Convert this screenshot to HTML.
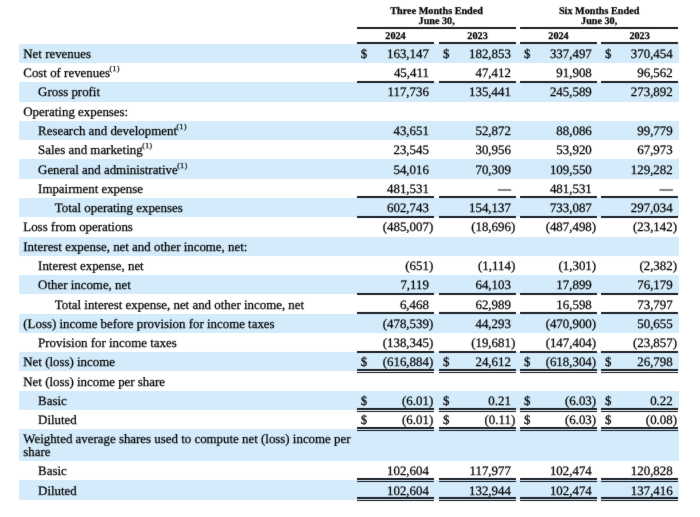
<!DOCTYPE html>
<html><head><meta charset="utf-8"><style>
*{margin:0;padding:0;box-sizing:border-box}
html,body{width:700px;height:517px;background:#fff;overflow:hidden}
body{position:relative;font-family:"Liberation Serif", serif;font-size:12.9px;color:#000;text-rendering:geometricPrecision;-webkit-text-stroke:0.25px #000}
.bg{position:absolute;left:19.3px;width:659.3px;background:#d3ebfa}
.r{position:absolute;left:0;width:700px;height:19px;line-height:19px;white-space:nowrap;will-change:transform}
.r div{position:absolute;top:0}
.n{text-align:right}
sup{font-size:7.5px;line-height:0;position:relative;top:-6.3px;vertical-align:baseline;letter-spacing:0.6px;margin-left:-0.5px}
.ln{position:absolute;height:2px;background:#1a1f26}
.l2{position:absolute;height:1px;background:#0e1218}
.h{position:absolute;will-change:transform;font-weight:bold;font-size:10.2px;text-align:center;line-height:9.9px;white-space:nowrap}
#w{position:absolute;left:0;top:0;width:700px;height:517px;filter:url(#f)}
</style></head><body><svg width="0" height="0" style="position:absolute"><filter id="f" x="0" y="0" width="100%" height="100%" color-interpolation-filters="sRGB"><feConvolveMatrix order="3" kernelMatrix="1 2 1 2 36 2 1 2 1" divisor="48" edgeMode="duplicate"/></filter></svg><div id="w">

<div class="h" style="left:357px;width:159.3px;top:6.6px">Three Months Ended<br>June 30,</div>
<div class="h" style="left:520.2px;width:158.3px;top:6.6px">Six Months Ended<br>June 30,</div>
<div class="ln" style="left:357px;width:159.3px;top:26.9px"></div>
<div class="ln" style="left:520.2px;width:158.3px;top:26.9px"></div>
<div class="h" style="left:357.0px;width:77.0px;top:31.8px">2024</div>
<div class="h" style="left:439.2px;width:77.1px;top:31.8px">2023</div>
<div class="h" style="left:520.2px;width:77.0px;top:31.8px">2024</div>
<div class="h" style="left:601.3px;width:77.2px;top:31.8px">2023</div>
<div class="bg" style="top:43.70px;height:19.28px"></div>
<div class="r" style="top:45px"><div style="left:23.3px">Net revenues</div><div style="left:360.8px">$</div><div class="n" style="right:271.10px">163,147</div><div style="left:443.0px">$</div><div class="n" style="right:189.10px">182,853</div><div style="left:524.0px">$</div><div class="n" style="right:108.20px">337,497</div><div style="left:605.1px">$</div><div class="n" style="right:27.30px">370,454</div></div>
<div class="r" style="top:64px"><div style="left:23.3px">Cost of revenues<sup>(1)</sup></div><div class="n" style="right:271.10px">45,411</div><div class="n" style="right:189.10px">47,412</div><div class="n" style="right:108.20px">91,908</div><div class="n" style="right:27.30px">96,562</div></div>
<div class="bg" style="top:82.26px;height:19.28px"></div>
<div class="r" style="top:83px"><div style="left:38.1px">Gross profit</div><div class="n" style="right:271.10px">117,736</div><div class="n" style="right:189.10px">135,441</div><div class="n" style="right:108.20px">245,589</div><div class="n" style="right:27.30px">273,892</div></div>
<div class="r" style="top:103px"><div style="left:23.3px">Operating expenses:</div></div>
<div class="bg" style="top:120.82px;height:19.28px"></div>
<div class="r" style="top:122px"><div style="left:38.1px">Research and development<sup>(1)</sup></div><div class="n" style="right:271.10px">43,651</div><div class="n" style="right:189.10px">52,872</div><div class="n" style="right:108.20px">88,086</div><div class="n" style="right:27.30px">99,779</div></div>
<div class="r" style="top:141px"><div style="left:38.1px">Sales and marketing<sup>(1)</sup></div><div class="n" style="right:271.10px">23,545</div><div class="n" style="right:189.10px">30,956</div><div class="n" style="right:108.20px">53,920</div><div class="n" style="right:27.30px">67,973</div></div>
<div class="bg" style="top:159.38px;height:19.28px"></div>
<div class="r" style="top:161px"><div style="left:38.1px">General and administrative<sup>(1)</sup></div><div class="n" style="right:271.10px">54,016</div><div class="n" style="right:189.10px">70,309</div><div class="n" style="right:108.20px">109,550</div><div class="n" style="right:27.30px">129,282</div></div>
<div class="r" style="top:180px"><div style="left:38.1px">Impairment expense</div><div class="n" style="right:271.10px">481,531</div><div class="n" style="right:189.10px">—</div><div class="n" style="right:108.20px">481,531</div><div class="n" style="right:27.30px">—</div></div>
<div class="bg" style="top:197.94px;height:19.28px"></div>
<div class="r" style="top:199px"><div style="left:54.8px">Total operating expenses</div><div class="n" style="right:271.10px">602,743</div><div class="n" style="right:189.10px">154,137</div><div class="n" style="right:108.20px">733,087</div><div class="n" style="right:27.30px">297,034</div></div>
<div class="r" style="top:218px"><div style="left:23.3px">Loss from operations</div><div class="n" style="right:271.10px">(485,007</div><div style="left:428.90px">)</div><div class="n" style="right:189.10px">(18,696</div><div style="left:510.90px">)</div><div class="n" style="right:108.20px">(487,498</div><div style="left:591.80px">)</div><div class="n" style="right:27.30px">(23,142</div><div style="left:672.70px">)</div></div>
<div class="bg" style="top:236.50px;height:19.28px"></div>
<div class="r" style="top:238px"><div style="left:23.3px">Interest expense, net and other income, net:</div></div>
<div class="r" style="top:257px"><div style="left:38.1px">Interest expense, net</div><div class="n" style="right:271.10px">(651</div><div style="left:428.90px">)</div><div class="n" style="right:189.10px">(1,114</div><div style="left:510.90px">)</div><div class="n" style="right:108.20px">(1,301</div><div style="left:591.80px">)</div><div class="n" style="right:27.30px">(2,382</div><div style="left:672.70px">)</div></div>
<div class="bg" style="top:275.06px;height:19.28px"></div>
<div class="r" style="top:276px"><div style="left:38.1px">Other income, net</div><div class="n" style="right:271.10px">7,119</div><div class="n" style="right:189.10px">64,103</div><div class="n" style="right:108.20px">17,899</div><div class="n" style="right:27.30px">76,179</div></div>
<div class="r" style="top:296px"><div style="left:54.8px">Total interest expense, net and other income, net</div><div class="n" style="right:271.10px">6,468</div><div class="n" style="right:189.10px">62,989</div><div class="n" style="right:108.20px">16,598</div><div class="n" style="right:27.30px">73,797</div></div>
<div class="bg" style="top:313.62px;height:19.28px"></div>
<div class="r" style="top:315px"><div style="left:23.3px">(Loss) income before provision for income taxes</div><div class="n" style="right:271.10px">(478,539</div><div style="left:428.90px">)</div><div class="n" style="right:189.10px">44,293</div><div class="n" style="right:108.20px">(470,900</div><div style="left:591.80px">)</div><div class="n" style="right:27.30px">50,655</div></div>
<div class="r" style="top:334px"><div style="left:38.1px">Provision for income taxes</div><div class="n" style="right:271.10px">(138,345</div><div style="left:428.90px">)</div><div class="n" style="right:189.10px">(19,681</div><div style="left:510.90px">)</div><div class="n" style="right:108.20px">(147,404</div><div style="left:591.80px">)</div><div class="n" style="right:27.30px">(23,857</div><div style="left:672.70px">)</div></div>
<div class="bg" style="top:352.18px;height:19.28px"></div>
<div class="r" style="top:353px"><div style="left:23.3px">Net (loss) income</div><div style="left:360.8px">$</div><div class="n" style="right:271.10px">(616,884</div><div style="left:428.90px">)</div><div style="left:443.0px">$</div><div class="n" style="right:189.10px">24,612</div><div style="left:524.0px">$</div><div class="n" style="right:108.20px">(618,304</div><div style="left:591.80px">)</div><div style="left:605.1px">$</div><div class="n" style="right:27.30px">26,798</div></div>
<div class="r" style="top:373px"><div style="left:23.3px">Net (loss) income per share</div></div>
<div class="bg" style="top:390.74px;height:19.28px"></div>
<div class="r" style="top:392px"><div style="left:38.1px">Basic</div><div style="left:360.8px">$</div><div class="n" style="right:271.10px">(6.01</div><div style="left:428.90px">)</div><div style="left:443.0px">$</div><div class="n" style="right:189.10px">0.21</div><div style="left:524.0px">$</div><div class="n" style="right:108.20px">(6.03</div><div style="left:591.80px">)</div><div style="left:605.1px">$</div><div class="n" style="right:27.30px">0.22</div></div>
<div class="r" style="top:411px"><div style="left:38.1px">Diluted</div><div style="left:360.8px">$</div><div class="n" style="right:271.10px">(6.01</div><div style="left:428.90px">)</div><div style="left:443.0px">$</div><div class="n" style="right:189.10px">(0.11</div><div style="left:510.90px">)</div><div style="left:524.0px">$</div><div class="n" style="right:108.20px">(6.03</div><div style="left:591.80px">)</div><div style="left:605.1px">$</div><div class="n" style="right:27.30px">(0.08</div><div style="left:672.70px">)</div></div>
<div class="bg" style="top:429.30px;height:31.80px"></div>
<div class="r" style="top:430px"><div style="left:23.3px">Weighted average shares used to compute net (loss) income per</div></div>
<div class="r" style="top:443px"><div style="left:23.3px">share</div></div>
<div class="r" style="top:462px"><div style="left:38.1px">Basic</div><div class="n" style="right:271.10px">102,604</div><div class="n" style="right:189.10px">117,977</div><div class="n" style="right:108.20px">102,474</div><div class="n" style="right:27.30px">120,828</div></div>
<div class="bg" style="top:480.38px;height:19.28px"></div>
<div class="r" style="top:482px"><div style="left:38.1px">Diluted</div><div class="n" style="right:271.10px">102,604</div><div class="n" style="right:189.10px">132,944</div><div class="n" style="right:108.20px">102,474</div><div class="n" style="right:27.30px">137,416</div></div>
<div class="ln" style="left:357.0px;width:77.0px;top:80.76px"></div>
<div class="ln" style="left:439.2px;width:77.1px;top:80.76px"></div>
<div class="ln" style="left:520.2px;width:77.0px;top:80.76px"></div>
<div class="ln" style="left:601.3px;width:77.2px;top:80.76px"></div>
<div class="ln" style="left:357.0px;width:77.0px;top:196.44px"></div>
<div class="ln" style="left:439.2px;width:77.1px;top:196.44px"></div>
<div class="ln" style="left:520.2px;width:77.0px;top:196.44px"></div>
<div class="ln" style="left:601.3px;width:77.2px;top:196.44px"></div>
<div class="ln" style="left:357.0px;width:77.0px;top:215.72px"></div>
<div class="ln" style="left:439.2px;width:77.1px;top:215.72px"></div>
<div class="ln" style="left:520.2px;width:77.0px;top:215.72px"></div>
<div class="ln" style="left:601.3px;width:77.2px;top:215.72px"></div>
<div class="ln" style="left:357.0px;width:77.0px;top:292.84px"></div>
<div class="ln" style="left:439.2px;width:77.1px;top:292.84px"></div>
<div class="ln" style="left:520.2px;width:77.0px;top:292.84px"></div>
<div class="ln" style="left:601.3px;width:77.2px;top:292.84px"></div>
<div class="ln" style="left:357.0px;width:77.0px;top:312.12px"></div>
<div class="ln" style="left:439.2px;width:77.1px;top:312.12px"></div>
<div class="ln" style="left:520.2px;width:77.0px;top:312.12px"></div>
<div class="ln" style="left:601.3px;width:77.2px;top:312.12px"></div>
<div class="ln" style="left:357.0px;width:77.0px;top:350.68px"></div>
<div class="ln" style="left:439.2px;width:77.1px;top:350.68px"></div>
<div class="ln" style="left:520.2px;width:77.0px;top:350.68px"></div>
<div class="ln" style="left:601.3px;width:77.2px;top:350.68px"></div>
<div class="ln" style="left:357.0px;width:77.0px;top:369.06px"></div>
<div class="l2" style="left:357.0px;width:77.0px;top:371.96px"></div>
<div class="ln" style="left:439.2px;width:77.1px;top:369.06px"></div>
<div class="l2" style="left:439.2px;width:77.1px;top:371.96px"></div>
<div class="ln" style="left:520.2px;width:77.0px;top:369.06px"></div>
<div class="l2" style="left:520.2px;width:77.0px;top:371.96px"></div>
<div class="ln" style="left:601.3px;width:77.2px;top:369.06px"></div>
<div class="l2" style="left:601.3px;width:77.2px;top:371.96px"></div>
<div class="ln" style="left:357.0px;width:77.0px;top:407.62px"></div>
<div class="l2" style="left:357.0px;width:77.0px;top:410.52px"></div>
<div class="ln" style="left:439.2px;width:77.1px;top:407.62px"></div>
<div class="l2" style="left:439.2px;width:77.1px;top:410.52px"></div>
<div class="ln" style="left:520.2px;width:77.0px;top:407.62px"></div>
<div class="l2" style="left:520.2px;width:77.0px;top:410.52px"></div>
<div class="ln" style="left:601.3px;width:77.2px;top:407.62px"></div>
<div class="l2" style="left:601.3px;width:77.2px;top:410.52px"></div>
<div class="ln" style="left:357.0px;width:77.0px;top:426.90px"></div>
<div class="l2" style="left:357.0px;width:77.0px;top:429.80px"></div>
<div class="ln" style="left:439.2px;width:77.1px;top:426.90px"></div>
<div class="l2" style="left:439.2px;width:77.1px;top:429.80px"></div>
<div class="ln" style="left:520.2px;width:77.0px;top:426.90px"></div>
<div class="l2" style="left:520.2px;width:77.0px;top:429.80px"></div>
<div class="ln" style="left:601.3px;width:77.2px;top:426.90px"></div>
<div class="l2" style="left:601.3px;width:77.2px;top:429.80px"></div>
<div class="ln" style="left:357.0px;width:77.0px;top:477.98px"></div>
<div class="l2" style="left:357.0px;width:77.0px;top:480.88px"></div>
<div class="ln" style="left:439.2px;width:77.1px;top:477.98px"></div>
<div class="l2" style="left:439.2px;width:77.1px;top:480.88px"></div>
<div class="ln" style="left:520.2px;width:77.0px;top:477.98px"></div>
<div class="l2" style="left:520.2px;width:77.0px;top:480.88px"></div>
<div class="ln" style="left:601.3px;width:77.2px;top:477.98px"></div>
<div class="l2" style="left:601.3px;width:77.2px;top:480.88px"></div>
<div class="ln" style="left:357.0px;width:77.0px;top:497.26px"></div>
<div class="l2" style="left:357.0px;width:77.0px;top:500.16px"></div>
<div class="ln" style="left:439.2px;width:77.1px;top:497.26px"></div>
<div class="l2" style="left:439.2px;width:77.1px;top:500.16px"></div>
<div class="ln" style="left:520.2px;width:77.0px;top:497.26px"></div>
<div class="l2" style="left:520.2px;width:77.0px;top:500.16px"></div>
<div class="ln" style="left:601.3px;width:77.2px;top:497.26px"></div>
<div class="l2" style="left:601.3px;width:77.2px;top:500.16px"></div>
<div class="ln" style="left:357.0px;width:77.0px;top:42.4px"></div>
<div class="ln" style="left:439.2px;width:77.1px;top:42.4px"></div>
<div class="ln" style="left:520.2px;width:77.0px;top:42.4px"></div>
<div class="ln" style="left:601.3px;width:77.2px;top:42.4px"></div>
</div></body></html>
